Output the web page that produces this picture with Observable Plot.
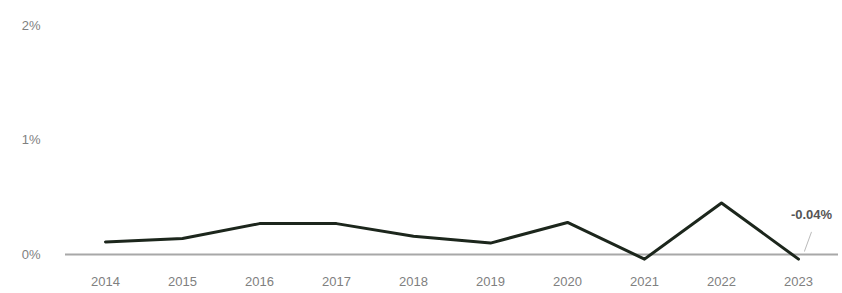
<!DOCTYPE html>
<html>
<head>
<meta charset="utf-8">
<script src="https://cdn.jsdelivr.net/npm/d3@7"></script>
<script src="https://cdn.jsdelivr.net/npm/@observablehq/plot@0.6"></script>
<style>
  html, body { margin: 0; padding: 0; background: #fff; }
  #chart svg { display: block; }
</style>
</head>
<body>
<div id="chart"></div>
<script>
const years = ["2014","2015","2016","2017","2018","2019","2020","2021","2022","2023"];
const values = [0.11, 0.14, 0.27, 0.27, 0.16, 0.10, 0.28, -0.04, 0.45, -0.04];
const yTicks = [0, 1, 2];
const lastLabel = "-0.04%";

const data = years.map((y, i) => ({year: y, value: values[i]}));
const last = data[data.length - 1];

const chart = Plot.plot({
  width: 842,
  height: 293,
  marginLeft: 65,
  marginRight: 4,
  marginTop: 25,
  marginBottom: 25,
  style: {fontFamily: "Liberation Sans, Arial, sans-serif", fontSize: "13px", color: "#808080"},
  x: {type: "point", domain: years, padding: 0.5, label: null},
  y: {domain: [-0.122, 2], label: null},
  marks: [
    Plot.axisY({ticks: yTicks, tickSize: 0, tickPadding: 25, tickFormat: d => d + "%", fill: "#808080", label: null}),
    Plot.axisX({tickSize: 0, tickPadding: 8, fill: "#808080", label: null}),
    Plot.ruleY([0], {stroke: "#a8a8a8", strokeWidth: 2}),
    Plot.line(data, {x: "year", y: "value", stroke: "#1c261c", strokeWidth: 3, curve: "linear"}),
    Plot.vector([last], {x: "year", y: "value", length: 20, rotate: 20, anchor: "start", dx: 6, dy: -8, stroke: "#bbb", strokeWidth: 1, shape: {draw(ctx, l) { ctx.moveTo(0, 0); ctx.lineTo(0, -l); }}}),
    Plot.text([last], {x: "year", y: "value", text: () => lastLabel, dx: 13, dy: -44, fontWeight: "bold", fill: "#555", fontSize: 13})
  ]
});
document.getElementById("chart").append(chart);
</script>
</body>
</html>
